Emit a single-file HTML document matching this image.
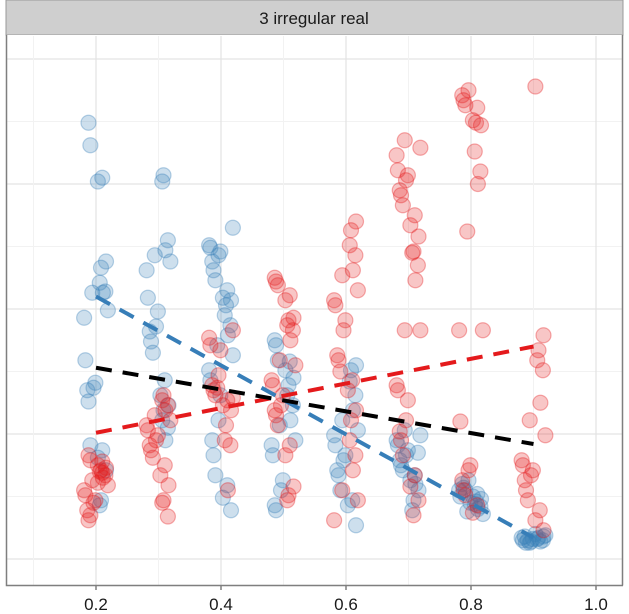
<!DOCTYPE html>
<html><head><meta charset="utf-8"><style>
body{margin:0;background:#fff}
svg{display:block;font-family:"Liberation Sans",sans-serif}
</style></head><body>
<svg id="chart" width="629" height="614" viewBox="0 0 629 614">
<rect x="6" y="0" width="617" height="35" fill="#cfcfcf" stroke="#9a9a9a" stroke-width="1"/>
<text x="314" y="24" font-size="17" text-anchor="middle" fill="#1a1a1a">3 irregular real</text>
<rect x="6" y="35" width="617" height="550" fill="#fff"/>
<g id="grid"></g>
<g id="pts"></g>
<g id="lines"></g>
<path d="M6.5 35V585.5H623" fill="none" stroke="#7f7f7f" stroke-width="1.5"/>
<path d="M622.5 35V585.5" fill="none" stroke="#7f7f7f" stroke-width="1.5"/>
<g id="axis"></g>
</svg>
<script>
const xTicks=[0.2,0.4,0.6,0.8,1.0];
const xTickLabels=["0.2","0.4","0.6","0.8","1.0"];
const groupX=[0.2,0.3,0.4,0.5,0.6,0.7,0.8,0.9];
const blueY=[
[3.49,3.31,3.05,3.02,2.38,2.33,2.21,2.14,2.13,2.13,1.99,1.93,1.59,1.41,1.37,1.35,1.26,0.91,0.87,0.81,0.71,0.47,0.43],
[3.07,3.02,2.55,2.47,2.43,2.38,2.31,2.09,1.98,1.86,1.82,1.74,1.65,1.43,1.31,1.23,1.19,1.11,1.05,0.95],
[2.65,2.51,2.49,2.46,2.43,2.38,2.31,2.23,2.15,2.09,2.07,2.03,1.95,1.87,1.79,1.71,1.63,1.51,1.43,1.31,1.11,0.95,0.83,0.67,0.59,0.49,0.39],
[1.75,1.71,1.59,1.58,1.51,1.45,1.39,1.31,1.23,1.11,1.07,0.95,0.91,0.83,0.63,0.55,0.43,0.39],
[1.55,1.51,1.42,1.31,1.19,1.11,1.03,0.99,0.91,0.83,0.79,0.71,0.67,0.55,0.47,0.43,0.27],
[1.03,0.99,0.95,0.91,0.87,0.83,0.79,0.75,0.71,0.67,0.63,0.55,0.47,0.39,0.85,0.6],
[0.63,0.6,0.57,0.55,0.52,0.5,0.48,0.46,0.44,0.42,0.4,0.38,0.36,0.55,0.5,0.45],
[0.2,0.18,0.17,0.16,0.15,0.14,0.13,0.19,0.17,0.15,0.16,0.14,0.18,0.13,0.15]
];
const redY=[
[0.83,0.79,0.78,0.75,0.73,0.71,0.7,0.67,0.65,0.63,0.59,0.55,0.51,0.47,0.45,0.39,0.31,0.35,0.69,0.61],
[1.31,1.27,1.23,1.19,1.15,1.11,1.07,1.03,0.99,0.95,0.91,0.87,0.81,0.75,0.67,0.59,0.47,0.45,0.34],
[1.83,1.77,1.71,1.67,1.47,1.39,1.35,1.31,1.27,1.23,1.19,1.07,0.95,0.91,0.55,1.37,1.29],
[2.25,2.22,2.19,2.11,2.07,1.93,1.91,1.87,1.83,1.75,1.59,1.55,1.43,1.39,1.31,1.23,1.19,1.15,1.07,0.91,0.83,0.58,0.51,0.47],
[2.7,2.63,2.51,2.43,2.31,2.27,2.15,2.07,2.03,1.91,1.83,1.63,1.59,1.5,1.43,1.35,1.19,1.11,0.95,0.83,0.71,0.55,0.47,0.31],
[3.35,3.29,3.23,3.11,3.07,3.03,2.95,2.91,2.83,2.75,2.67,2.58,2.46,2.45,2.35,2.23,1.83,1.83,1.39,1.35,1.27,1.11,1.02,0.95,0.83,0.67,0.58,0.47,0.35],
[3.75,3.71,3.67,3.63,3.61,3.51,3.47,3.49,3.26,3.1,3.0,2.62,1.83,1.83,1.1,0.75,0.71,0.63,0.55,0.51,0.43,0.37],
[3.78,1.79,1.67,1.59,1.51,1.25,1.11,0.99,0.79,0.75,0.71,0.67,0.63,0.55,0.47,0.39,0.31,0.23]
];
const jitter=[-0.012,0.015,-0.004,0.008,-0.017,0.003,0.019,-0.009,0.011,-0.014,0.006,-0.001,0.016,-0.019,0.01,-0.006];
const blueLine=[[0.2,2.1],[0.9,0.17]];
const redLine=[[0.2,1.01],[0.9,1.7]];
const blackLine=[[0.2,1.53],[0.9,0.92]];

const NS="http://www.w3.org/2000/svg";
const sx=v=>-29+v*625;
const sy=v=>559-v*125;
function mk(tag,attrs,parent){const e=document.createElementNS(NS,tag);for(const k in attrs)e.setAttribute(k,attrs[k]);parent.appendChild(e);return e;}
const grid=document.getElementById('grid');
[0.5,1.5,2.5,3.5].forEach(v=>{const l=mk('line',{x1:7,x2:622,y1:sy(v),y2:sy(v),stroke:'#f2f2f2','stroke-width':1},grid);});
[0,1,2,3,4].forEach(v=>{const l=mk('line',{x1:7,x2:622,y1:sy(v),y2:sy(v),stroke:'#e3e3e3','stroke-width':1.2},grid);});
[0.1,0.3,0.5,0.7,0.9].forEach(v=>{const l=mk('line',{x1:sx(v),x2:sx(v),y1:36,y2:585,stroke:'#f2f2f2','stroke-width':1},grid);});
xTicks.forEach(v=>{const l=mk('line',{x1:sx(v),x2:sx(v),y1:36,y2:585,stroke:'#e3e3e3','stroke-width':1.2},grid);});
const pts=document.getElementById('pts');
function drawGroup(arr,color,name){arr.forEach((ys,g)=>{ys.forEach((y,i)=>{const c=mk('circle',{cx:sx(groupX[g]+jitter[(i*7+g*3)%jitter.length]),cy:sy(y),r:7.5,fill:color,'fill-opacity':0.25,stroke:color,'stroke-opacity':0.35,'stroke-width':1.2},pts);

});});}
drawGroup(blueY,'#377eb8','blue-point');
drawGroup(redY,'#e41a1c','red-point');
const lines=document.getElementById('lines');
function drawLine(d,color,name){const l=mk('line',{x1:sx(d[0][0]),y1:sy(d[0][1]),x2:sx(d[1][0]),y2:sy(d[1][1]),stroke:color,'stroke-width':4,'stroke-dasharray':'16 11'},lines);

}
drawLine(blueLine,'#377eb8','blue-trend-line');
drawLine(redLine,'#e41a1c','red-trend-line');
drawLine(blackLine,'#000','overall-trend-line');
const axis=document.getElementById('axis');
xTicks.forEach((v,i)=>{const t=mk('line',{x1:sx(v),x2:sx(v),y1:585,y2:590,stroke:'#7f7f7f','stroke-width':1.5},axis);


const tx=mk('text',{x:sx(v),y:610,'font-size':17,'text-anchor':'middle',fill:'#1a1a1a'},axis);tx.textContent=xTickLabels[i];

});
</script>
</body></html>
